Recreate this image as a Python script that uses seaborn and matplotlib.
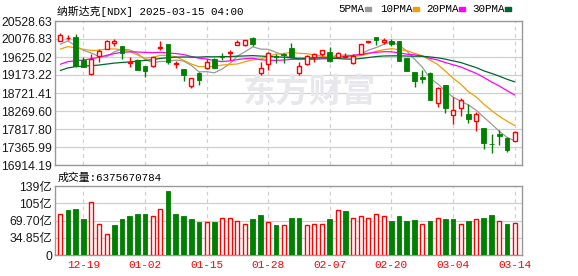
import numpy as np
import pandas as pd
import matplotlib
matplotlib.use("Agg")
import matplotlib.pyplot as plt
from matplotlib.patches import Rectangle
import seaborn as sns

# ---------------- data ----------------
dates = ['12-16','12-17','12-18','12-19','12-20','12-23','12-24','12-26','12-27','12-30','12-31',
         '01-02','01-03','01-06','01-07','01-08','01-10','01-13','01-14','01-15','01-16','01-17',
         '01-21','01-22','01-23','01-24','01-27','01-28','01-29','01-30','01-31',
         '02-03','02-04','02-05','02-06','02-07','02-10','02-11','02-12','02-13','02-14',
         '02-18','02-19','02-20','02-21','02-24','02-25','02-26','02-27','02-28',
         '03-03','03-04','03-05','03-06','03-07','03-10','03-11','03-12','03-13','03-14']
opens = [20035, 20100, 20135, 19550, 19198, 19650, 19826, 19968, 19901, 19470, 19550,
         19399, 19407, 19850, 19951, 19460, 19315, 18905, 19215, 19341, 19566, 19660,
         19735, 19918, 19935, 20093, 19232, 19441, 19650, 19700, 19843,
         19215, 19449, 19617, 19700, 19759, 19633, 19620, 19466, 19700, 19993,
         20119, 20010, 20027, 20027, 19608, 19257, 19131, 19232, 18479,
         18922, 18169, 18336, 18194, 18027, 17851, 17441, 17692, 17600, 17525]
highs = [20219, 20177, 20202, 19617, 19700, 19817, 20052, 20077, 19901, 19633, 19575,
         19399, 19633, 20027, 19951, 19533, 19315, 19089, 19257, 19575, 19591, 19726,
         19801, 20052, 20053, 20135, 19508, 19759, 19692, 19734, 19968,
         19508, 19675, 19717, 19801, 19868, 19759, 19734, 19692, 19951, 20035,
         20135, 20093, 20077, 20027, 19608, 19257, 19299, 19257, 18880,
         18922, 18613, 18587, 18445, 18253, 17851, 17692, 17793, 17625, 17768]
lows = [20018, 20052, 19366, 19366, 19198, 19508, 19826, 19909, 19566, 19366, 19315,
        19131, 19382, 19801, 19441, 19341, 19031, 18838, 18922, 19315, 19338, 19550,
        19550, 19918, 19910, 19901, 19173, 19299, 19483, 19483, 19617,
        19165, 19424, 19508, 19650, 19508, 19591, 19591, 19441, 19700, 19985,
        19926, 19951, 19901, 19525, 19282, 18880, 18981, 18546, 18378,
        18228, 17943, 18144, 17977, 17776, 17307, 17224, 17416, 17249, 17525]
closes = [20173, 20109, 19393, 19372, 19573, 19764, 20031, 20020, 19722, 19487, 19311,
          19280, 19622, 19865, 19490, 19479, 19162, 19088, 19044, 19511, 19338, 19630,
          19757, 20010, 20053, 19954, 19342, 19734, 19632, 19681, 19627,
          19391, 19654, 19692, 19791, 19523, 19714, 19643, 19649, 19945, 20026,
          20041, 20056, 19962, 19524, 19286, 19026, 19075, 18544, 18847,
          18350, 18285, 18552, 18069, 18196, 17468, 17436, 17648, 17303, 17754]
# closes of the 29 sessions before the chart window (for the moving averages)
prior_closes = [18180, 18439, 18983, 19269, 19287, 19299, 19281, 19231, 19108, 18680,
                18792, 18987, 18966, 18972, 19004, 19055, 19174, 19060, 19218, 19404,
                19481, 19735, 19700, 19860, 19737, 19687, 20035, 19903, 19927]
volumes = [82.8, 90.9, 93.0, 72.7, 106.4, 62.6, 42.4, 60.6, 72.7, 78.8, 83.4,
           83.4, 78.8, 93.0, 129.3, 83.4, 78.8, 72.7, 66.7, 66.7, 66.7, 74.7,
           74.7, 68.7, 62.6, 72.7, 81.4, 66.7, 60.6, 60.6, 74.7,
           74.7, 60.6, 62.6, 62.6, 72.7, 90.9, 88.9, 74.7, 78.8, 74.7,
           82.8, 78.8, 68.7, 78.8, 68.7, 70.7, 62.6, 68.7, 74.7,
           72.7, 72.7, 62.6, 68.7, 72.7, 74.7, 80.8, 68.7, 62.6, 63.76]

price_ticks = [20528.63, 20076.83, 19625.02, 19173.22, 18721.41, 18269.60, 17817.80, 17365.99, 16914.19]
vol_tick_values = [0, 34.85, 69.70, 104.55, 139.40]
vol_tick_labels = ['0', '34.85亿', '69.70亿', '105亿', '139亿']
date_tick_labels = ['12-19', '01-02', '01-15', '01-28', '02-07', '02-20', '03-04', '03-14']
ma_periods = [5, 10, 20, 30]
ma_names = ['5PMA', '10PMA', '20PMA', '30PMA']
ma_colors = ['#9a9a9a', '#f0a000', '#ff00ff', '#006633']
title_text = '纳斯达克[NDX] 2025-03-15 04:00'
volume_text = '成交量:6375670784'
watermark = '东方财富'

# ---------------- styling ----------------
sns.set_theme(style="white")
plt.rcParams['font.family'] = ['Liberation Sans', 'Noto Sans CJK SC']
MONO = ['Liberation Mono', 'Noto Sans CJK SC']
RED = '#ff0000'
GREEN = '#008000'
GRID = '#d0d0d0'
FRAME = '#999999'

df = pd.DataFrame({'x': np.arange(len(dates)), 'date': dates, 'open': opens,
                   'high': highs, 'low': lows, 'close': closes, 'vol': volumes})
df['up'] = df['close'] >= df['open']
prev = [prior_closes[-1]] + closes[:-1]
df['vol_up'] = df['close'] >= np.array(prev)

allc = pd.Series(prior_closes + closes, dtype=float)
ma_frames = []
for p, name in zip(ma_periods, ma_names):
    m = allc.rolling(p).mean().iloc[len(prior_closes):].to_numpy()
    ma_frames.append(pd.DataFrame({'x': df['x'], 'value': m, 'ma': name}))
ma_df = pd.concat(ma_frames, ignore_index=True)

W, H = 578, 276
fig = plt.figure(figsize=(W / 100, H / 100), dpi=100)
L, R = 55, 522
ax = fig.add_axes([L / W, 1 - 165 / H, (R - L) / W, (165 - 21) / H])
axv = fig.add_axes([L / W, 1 - 255 / H, (R - L) / W, (255 - 186) / H])

xlim = (-0.69, 59.96)
tick_pos = [dates.index(d) for d in date_tick_labels]

for a in (ax, axv):
    a.set_xlim(*xlim)
    for s in a.spines.values():
        s.set_color(FRAME)
        s.set_linewidth(1.0)
    for tp in tick_pos:
        a.axvline(tp, color=GRID, lw=0.9, ls=(0, (3, 3)), zorder=0)
    a.set_facecolor('white')

# ---- price panel ----
ax.set_ylim(price_ticks[-1], price_ticks[0])
for v in price_ticks:
    ax.axhline(v, color=GRID, lw=0.9, zorder=0)
ax.set_yticks(price_ticks)
ax.set_yticklabels([f'{v:.2f}' for v in price_ticks])
ax.set_xticks([])
ax.tick_params(axis='y', length=0, pad=2, labelsize=8.8, labelcolor='#1a1a1a')

ax.text(0.5, 0.5, watermark, transform=fig.transFigure, alpha=1,
        fontsize=24, fontweight='bold', color='#e8e8ec', family=['Noto Sans CJK SC'],
        ha='center', va='center', zorder=0.5,
        position=(309 / W, 1 - 93 / H))

sns.lineplot(data=ma_df, x='x', y='value', hue='ma', palette=dict(zip(ma_names, ma_colors)),
             hue_order=ma_names, legend=False, linewidth=0.9, ax=ax, zorder=2)

wick_colors = [RED if u else GREEN for u in df['up']]
ax.vlines(df['x'], df['low'], df['high'], colors=wick_colors, linewidth=1.0, zorder=3)
body_bottom = np.minimum(df['open'], df['close'])
body_h = np.abs(df['close'] - df['open'])
upm = df['up'].to_numpy()
ax.bar(df['x'][upm], body_h[upm], bottom=body_bottom[upm], width=0.52,
       facecolor='white', edgecolor=RED, linewidth=1.0, zorder=4)
ax.bar(df['x'][~upm], body_h[~upm], bottom=body_bottom[~upm], width=0.62,
       facecolor=GREEN, edgecolor=GREEN, linewidth=0.6, zorder=4)
ax.set_xlabel('')
ax.set_ylabel('')

# ---- volume panel ----
axv.set_ylim(0, vol_tick_values[-1])
for v in vol_tick_values[1:-1]:
    axv.axhline(v, color=GRID, lw=0.9, zorder=0)
vm = df['vol_up'].to_numpy()
axv.bar(df['x'][vm], df['vol'][vm], width=0.52, facecolor='white', edgecolor=RED,
        linewidth=1.0, zorder=3)
axv.bar(df['x'][~vm], df['vol'][~vm], width=0.62, facecolor=GREEN, edgecolor=GREEN,
        linewidth=0.6, zorder=3)
axv.set_yticks(vol_tick_values)
axv.set_yticklabels(vol_tick_labels)
axv.tick_params(axis='y', length=0, pad=2, labelsize=8.8, labelcolor='#1a1a1a')
axv.set_xticks(tick_pos)
axv.set_xticklabels(date_tick_labels, family=MONO, fontsize=8, color=RED)
axv.tick_params(axis='x', length=0, pad=3.5)

# ---- header texts ----
fig.text(57 / W, 1 - 11 / H, title_text, family=MONO, fontsize=7.8, color='black',
         ha='left', va='center')
fig.text(58 / W, 1 - 178 / H, volume_text, family=MONO, fontsize=7.8, color='black',
         ha='left', va='center')
leg_x = [338, 380, 426, 472]
sq_x = [365, 413, 459, 505]
for name, col, tx, sx in zip(ma_names, ma_colors, leg_x, sq_x):
    fig.text(tx / W, 1 - 9 / H, name, family=MONO, fontsize=7.8, color='black',
             ha='left', va='center')
    fig.patches.append(Rectangle((sx / W, 1 - 10.5 / H), 6 / W, 3.5 / H,
                                 transform=fig.transFigure, color=col, figure=fig))

fig.savefig('out.png', dpi=100, facecolor='white')
